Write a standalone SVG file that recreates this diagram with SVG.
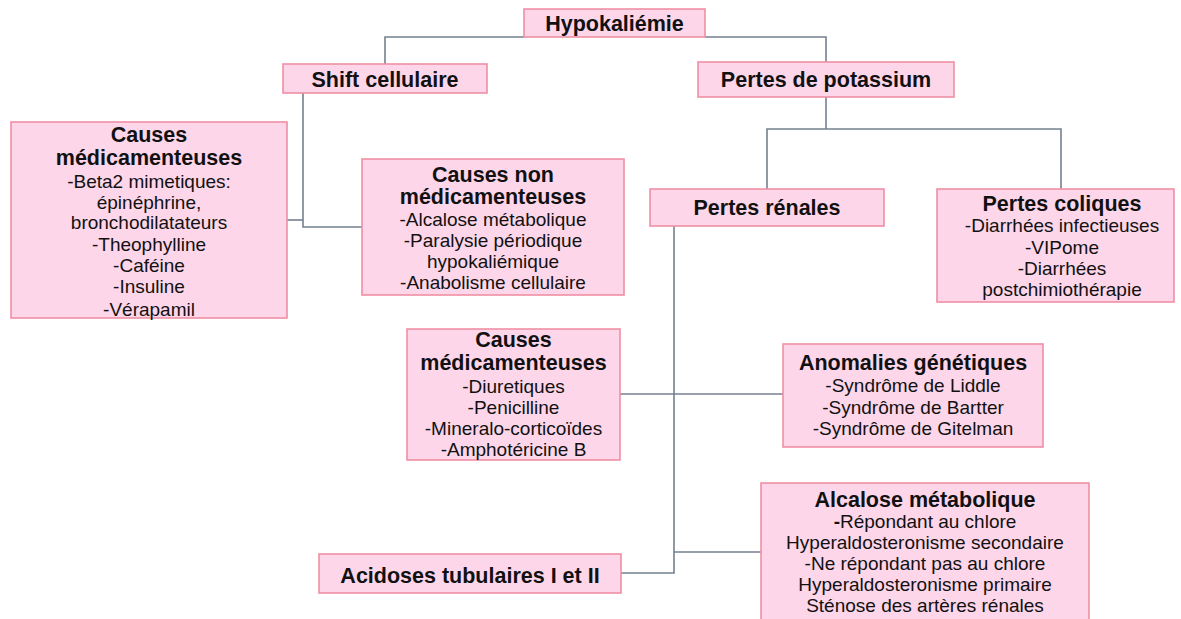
<svg xmlns="http://www.w3.org/2000/svg" width="1181" height="619" viewBox="0 0 1181 619">
<style>
.box{fill:#fdd6ea;stroke:#ef8fa3;stroke-width:1.6}
.h{font-family:"Liberation Sans",Arial,sans-serif;font-weight:bold;font-size:21.5px;fill:#111;text-anchor:middle}
.t{font-family:"Liberation Sans",Arial,sans-serif;font-size:19px;fill:#111;text-anchor:middle}
.c{fill:none;stroke:#748190;stroke-width:1.6}
</style>
<rect width="1181" height="619" fill="#fff"/>
<g id="connectors">
<polyline class="c" points="524,37 385,37 385,64"/>
<polyline class="c" points="705,37 826,37 826,62"/>
<polyline class="c" points="303,93 303,227 362,227"/>
<line class="c" x1="287" y1="220" x2="303" y2="220"/>
<line class="c" x1="826" y1="97" x2="826" y2="129"/>
<polyline class="c" points="767,189 767,129 1061,129 1061,189"/>
<polyline class="c" points="674,226 674,573 621,573"/>
<line class="c" x1="620" y1="394" x2="783" y2="394"/>
<line class="c" x1="674" y1="552" x2="761" y2="552"/>
</g>
<g id="hypokaliemie">
<rect class="box" x="524" y="9" width="181" height="28"/>
<text class="h" x="614.5" y="31">Hypokaliémie</text>
</g>
<g id="shift">
<rect class="box" x="283" y="64" width="204" height="29"/>
<text class="h" x="385" y="87">Shift cellulaire</text>
</g>
<g id="pertes-potassium">
<rect class="box" x="698" y="62" width="256" height="35"/>
<text class="h" x="826" y="87">Pertes de potassium</text>
</g>
<g id="causes-med-shift">
<rect class="box" x="11" y="122" width="276" height="196"/>
<text class="h" x="149" y="142">Causes</text>
<text class="h" x="149" y="165">médicamenteuses</text>
<text class="t" x="149" y="188">-Beta2 mimetiques:</text>
<text class="t" x="149" y="209">épinéphrine,</text>
<text class="t" x="149" y="229">bronchodilatateurs</text>
<text class="t" x="149" y="251">-Theophylline</text>
<text class="t" x="149" y="272">-Caféine</text>
<text class="t" x="149" y="293">-Insuline</text>
<text class="t" x="149" y="316">-Vérapamil</text>
</g>
<g id="causes-non-med">
<rect class="box" x="362" y="159" width="262" height="136"/>
<text class="h" x="493" y="182">Causes non</text>
<text class="h" x="493" y="204">médicamenteuses</text>
<text class="t" x="493" y="226">-Alcalose métabolique</text>
<text class="t" x="493" y="247">-Paralysie périodique</text>
<text class="t" x="493" y="268">hypokaliémique</text>
<text class="t" x="493" y="289">-Anabolisme cellulaire</text>
</g>
<g id="pertes-renales">
<rect class="box" x="650" y="189" width="234" height="37"/>
<text class="h" x="767" y="215">Pertes rénales</text>
</g>
<g id="pertes-coliques">
<rect class="box" x="937" y="189" width="237" height="113"/>
<text class="h" x="1062" y="211">Pertes coliques</text>
<text class="t" x="1062" y="232">-Diarrhées infectieuses</text>
<text class="t" x="1062" y="254">-VIPome</text>
<text class="t" x="1062" y="275">-Diarrhées</text>
<text class="t" x="1062" y="296">postchimiothérapie</text>
</g>
<g id="causes-med-renal">
<rect class="box" x="407" y="329" width="213" height="131"/>
<text class="h" x="513.5" y="347">Causes</text>
<text class="h" x="513.5" y="370">médicamenteuses</text>
<text class="t" x="513.5" y="393">-Diuretiques</text>
<text class="t" x="513.5" y="414">-Penicilline</text>
<text class="t" x="513.5" y="435">-Mineralo-corticoïdes</text>
<text class="t" x="513.5" y="456">-Amphotéricine B</text>
</g>
<g id="anomalies-genetiques">
<rect class="box" x="783" y="344" width="260" height="103"/>
<text class="h" x="913" y="370">Anomalies génétiques</text>
<text class="t" x="913" y="392">-Syndrôme de Liddle</text>
<text class="t" x="913" y="414">-Syndrôme de Bartter</text>
<text class="t" x="913" y="435">-Syndrôme de Gitelman</text>
</g>
<g id="alcalose-metabolique">
<rect class="box" x="761" y="483" width="328" height="145"/>
<text class="h" x="925" y="507">Alcalose métabolique</text>
<text class="t" x="925" y="528"><tspan font-weight="bold">-</tspan>Répondant au chlore</text>
<text class="t" x="925" y="549">Hyperaldosteronisme secondaire</text>
<text class="t" x="925" y="570">-Ne répondant pas au chlore</text>
<text class="t" x="925" y="591">Hyperaldosteronisme primaire</text>
<text class="t" x="925" y="612">Sténose des artères rénales</text>
</g>
<g id="acidoses-tubulaires">
<rect class="box" x="319" y="554" width="302" height="39"/>
<text class="h" x="470" y="583">Acidoses tubulaires I et II</text>
</g>
</svg>
